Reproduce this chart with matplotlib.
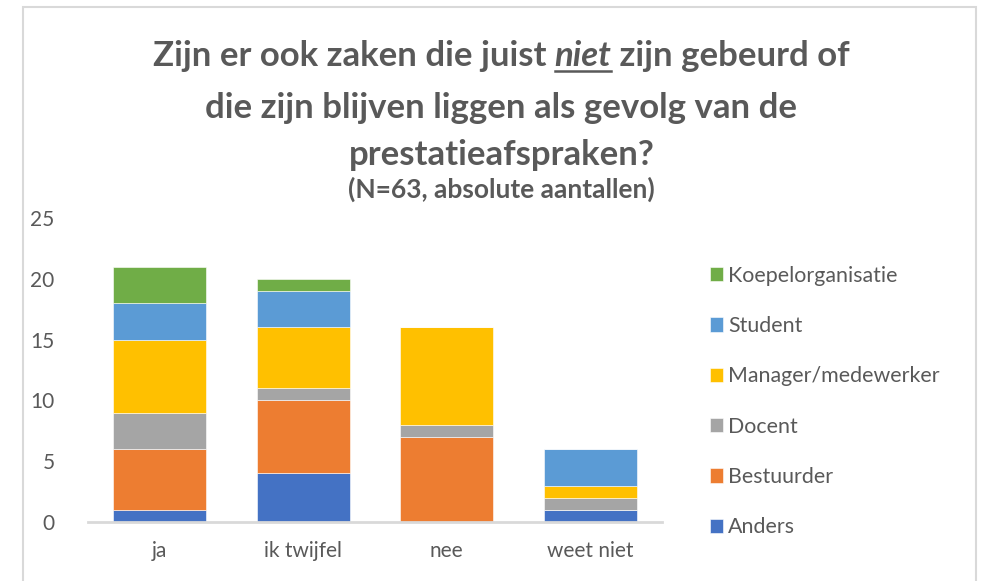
import matplotlib
matplotlib.use("Agg")
import matplotlib.pyplot as plt
from matplotlib.patches import Rectangle
from matplotlib.lines import Line2D
import numpy as np

plt.rcParams['font.family'] = ['Lato', 'DejaVu Sans']

# categorieën en aantallen per groep
categories = ["ja", "ik twijfel", "nee", "weet niet"]
anders = [1, 4, 0, 1]
bestuurder = [5, 6, 7, 0]
docent = [3, 1, 1, 1]
manager = [6, 5, 8, 1]
student = [3, 3, 0, 3]
koepel = [3, 1, 0, 0]

series = [
    ("Anders", anders, "#4472C4"),
    ("Bestuurder", bestuurder, "#ED7D31"),
    ("Docent", docent, "#A5A5A5"),
    ("Manager/medewerker", manager, "#FFC000"),
    ("Student", student, "#5B9BD5"),
    ("Koepelorganisatie", koepel, "#70AD47"),
]

text_col = "#595959"
W, H = 983, 581

fig = plt.figure(figsize=(W / 100, H / 100), dpi=100)
ax = fig.add_axes([88 / W, 1 - 522 / H, (662 - 88) / W, (522 - 218) / H])

x = np.arange(len(categories))
bottom = np.zeros(len(categories))
handles = []
for name, vals, col in series:
    b = ax.bar(x, vals, width=0.65, bottom=bottom, color=col, label=name,
               edgecolor="white", linewidth=0.4)
    bottom += np.array(vals)
    handles.append(b)

ax.set_xlim(-0.5, len(categories) - 0.5)
ax.set_ylim(0, 25)
ax.set_yticks([0, 5, 10, 15, 20, 25])
ax.set_xticks(x)
ax.set_xticklabels(categories)
ax.tick_params(axis="both", length=0, labelsize=15, colors=text_col)
ax.tick_params(axis="y", pad=24)
ax.tick_params(axis="x", pad=14)
for s in ["top", "right", "left"]:
    ax.spines[s].set_visible(False)
ax.spines["bottom"].set_color("#D9D9D9")
ax.spines["bottom"].set_linewidth(2)

# legenda, omgekeerde volgorde
leg = fig.legend(handles[::-1], [s[0] for s in series][::-1],
                 loc="upper left", bbox_to_anchor=(701 / W, 1 - 257 / H),
                 frameon=False, fontsize=15.4, labelcolor=text_col,
                 handlelength=0.65, handleheight=0.65, handletextpad=0.22,
                 labelspacing=1.42, borderaxespad=0)

# rand van de grafiek
fig.patches.append(Rectangle((23 / W, -0.05), (976 - 23) / W, 1.05 - 7 / H,
                             transform=fig.transFigure, fill=False,
                             edgecolor="#D9D9D9", linewidth=1.5))

# titel, met "niet" cursief en onderstreept
title_kw = dict(fontsize=25, fontweight="bold", color=text_col, va="baseline")
cx = 0.51
y1 = 1 - 66 / H
parts = [("Zijn er ook zaken die juist ", "normal"), ("niet", "italic"),
         (" zijn gebeurd of", "normal")]
texts = [fig.text(0, y1, p, style=st, ha="left", **title_kw) for p, st in parts]
fig.canvas.draw()
r = fig.canvas.get_renderer()
widths = [t.get_window_extent(r).width / W for t in texts]
xpos = cx - sum(widths) / 2
for t, w in zip(texts, widths):
    t.set_x(xpos)
    xpos += w
ux0 = texts[1].get_position()[0]
fig.lines.append(Line2D([ux0, ux0 + widths[1]], [y1 - 5 / H, y1 - 5 / H],
                        transform=fig.transFigure, color=text_col, linewidth=1.8))

fig.text(cx, 1 - 118 / H, "die zijn blijven liggen als gevolg van de",
         ha="center", **title_kw)
fig.text(cx, 1 - 165 / H, "prestatieafspraken?", ha="center", **title_kw)
fig.text(cx, 1 - 198 / H, "(N=63, absolute aantallen)", ha="center",
         fontsize=19, fontweight="bold", color=text_col, va="baseline")

fig.savefig("out.png", dpi=100)
